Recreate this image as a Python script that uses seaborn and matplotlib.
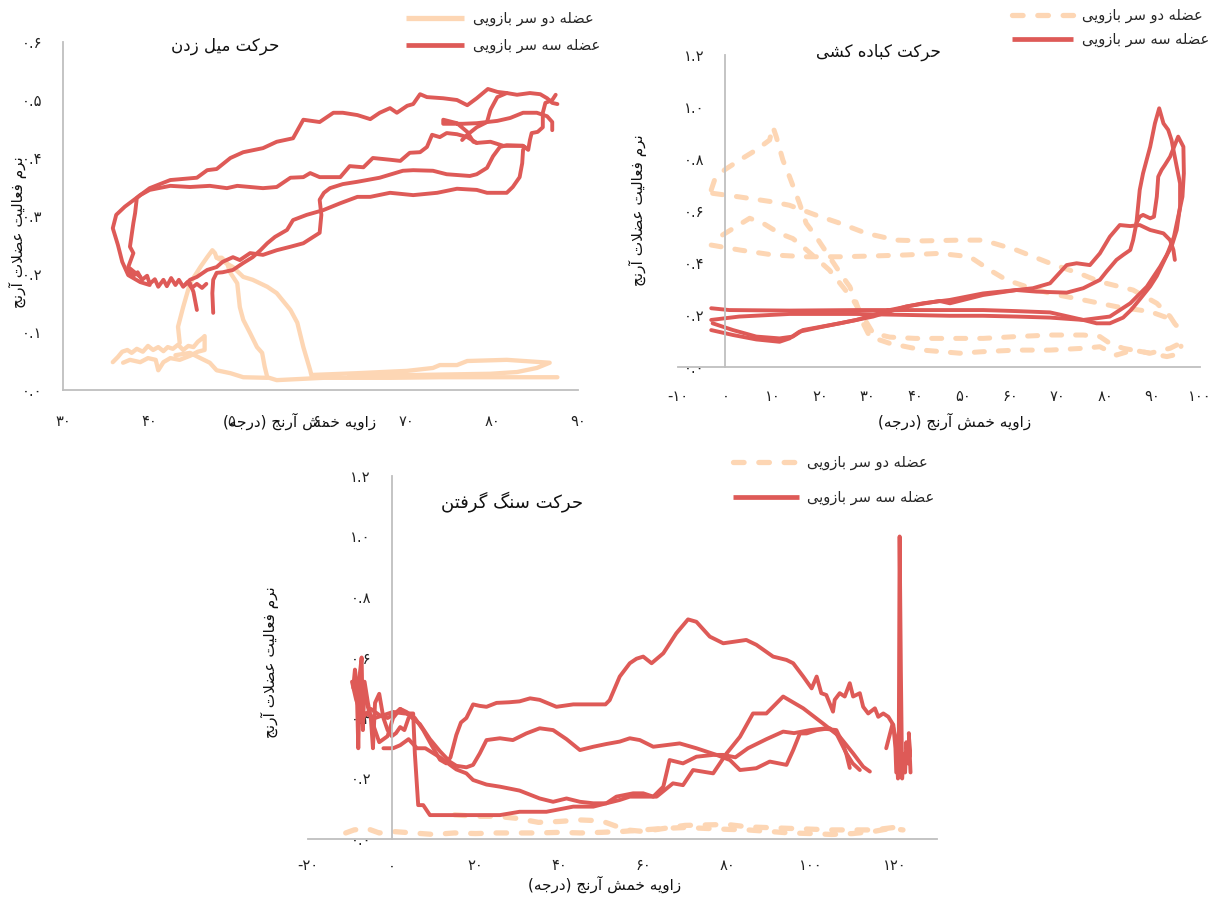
import numpy as np
import pandas as pd
import matplotlib
matplotlib.use("Agg")
import matplotlib.pyplot as plt
from matplotlib.lines import Line2D
import seaborn as sns

# ---------------------------------------------------------------- text
LEG_BI = "عضله دو سر بازویی"
LEG_TRI = "عضله سه سر بازویی"
TITLE_1 = "حرکت میل زدن"
TITLE_2 = "حرکت کباده کشی"
TITLE_3 = "حرکت سنگ گرفتن"
Y_LABEL = "نرم فعالیت عضلات آرنج"
X_LABEL = "زاویه خمش آرنج (درجه)"

# ---------------------------------------------------------------- ticks
p1_xticks = [30, 40, 50, 60, 70, 80, 90]
p1_yticks = [0.0, 0.1, 0.2, 0.3, 0.4, 0.5, 0.6]
p2_xticks = [-10, 0, 10, 20, 30, 40, 50, 60, 70, 80, 90, 100]
p2_yticks = [0.0, 0.2, 0.4, 0.6, 0.8, 1.0, 1.2]
p3_xticks = [-20, 0, 20, 40, 60, 80, 100, 120]
p3_yticks = [0.0, 0.2, 0.4, 0.6, 0.8, 1.0, 1.2]

# ---------------------------------------------------------------- panel 1 data (angle, activation)
p1_tri_a = [(40.1,0.181),(39.0,0.186),(37.6,0.198),(36.9,0.221),(36.4,0.250),(35.8,0.279),(36.2,0.302),
            (37.2,0.316),(39.0,0.336),(40.1,0.348),(42.5,0.362),(45.6,0.366),(46.8,0.379),(47.9,0.381),
            (49.5,0.400),(51.0,0.410),(53.3,0.417),(54.9,0.428),(56.8,0.434),(58.0,0.466),(59.9,0.462),
            (61.5,0.478),(62.6,0.478),(64.3,0.474),(65.8,0.467),(66.9,0.478),(68.1,0.486),(68.9,0.478),
            (70.1,0.490),(70.8,0.493),(71.6,0.510),(72.4,0.505),(74.3,0.503),(75.9,0.500),(77.1,0.491),
            (78.2,0.503),(79.5,0.519),(80.6,0.514),(81.7,0.512),(82.9,0.509),(84.4,0.512),(85.6,0.510),
            (86.4,0.503),(87.0,0.495),(87.6,0.493)]
p1_tri_b = [(39.0,0.195),(37.6,0.212),(38.2,0.236),(37.8,0.247),(38.2,0.288),(38.4,0.305),(38.6,0.331),
            (39.0,0.336),(40.1,0.345),(42.5,0.352),(44.8,0.350),(47.1,0.352),(49.1,0.348),(50.3,0.352),
            (51.8,0.350),(53.3,0.348),(54.9,0.350),(56.5,0.366),(58.0,0.367),(58.8,0.374),(59.9,0.367),
            (62.3,0.367),(63.4,0.386),(65.0,0.384),(66.1,0.400),(68.1,0.397),(69.3,0.395),(70.4,0.409),
            (71.6,0.410),(72.4,0.419),(73.0,0.440),(73.9,0.436),(74.7,0.443),(75.9,0.441),(77.1,0.436),
            (78.2,0.426),(79.8,0.428),(81.3,0.421),(82.9,0.421),(83.6,0.421),(84.2,0.414),(84.4,0.431),
            (84.6,0.443),(85.3,0.445),(85.9,0.453),(85.9,0.478),(86.2,0.495),(87.0,0.500),(87.4,0.509)]
p1_tri_c = [(44.2,0.181),(44.8,0.190),(45.6,0.195),(46.8,0.207),(47.9,0.212),(48.6,0.221),(49.8,0.229),
            (50.6,0.224),(51.8,0.236),(53.3,0.233),(54.9,0.241),(56.5,0.247),(58.0,0.253),(59.9,0.271),
            (60.1,0.302),(59.9,0.328),(60.4,0.340),(61.1,0.348),(62.6,0.355),(64.3,0.359),(66.9,0.366),
            (69.6,0.378),(70.8,0.379),(73.1,0.378),(74.7,0.372),(77.4,0.369),(78.2,0.372),(79.4,0.383),
            (80.1,0.403),(80.9,0.419),(81.7,0.422),(83.6,0.421)]
p1_tri_d = [(47.5,0.133),(47.4,0.167),(47.5,0.190),(47.9,0.202),(48.6,0.203),(49.8,0.207),(51.0,0.219),
            (52.1,0.229),(53.0,0.241),(53.8,0.253),(54.7,0.264),(56.1,0.276),(56.8,0.293),(58.4,0.302),
            (60.3,0.310),(62.3,0.322),(64.3,0.333),(65.8,0.333),(68.1,0.340),(70.8,0.336),(73.6,0.340),
            (75.9,0.347),(78.2,0.345),(79.4,0.340),(81.7,0.340),(82.4,0.350),(83.2,0.367),(83.5,0.391),
            (83.6,0.414),(83.8,0.419)]
p1_tri_e = [(44.8,0.184),(45.2,0.169),(45.6,0.138)]
p1_tri_f = [(37.5,0.207),(38.2,0.197),(38.7,0.203),(39.2,0.190),(39.8,0.197),(40.1,0.183),(40.7,0.191),
            (41.1,0.178),(41.7,0.190),(42.1,0.179),(42.6,0.193),(43.1,0.181),(43.5,0.190),(44.0,0.178),
            (44.5,0.186),(45.0,0.176),(45.6,0.183),(46.2,0.176),(46.7,0.183)]
p1_tri_g = [(78.2,0.426),(77.8,0.428),(77.1,0.445),(75.9,0.460),(74.3,0.466),(74.3,0.459),(76.6,0.459),
            (78.2,0.460),(80.6,0.464),(82.1,0.469),(83.6,0.478),(85.2,0.478),(86.4,0.472),(87.0,0.462),
            (87.0,0.448)]
p1_tri_h = [(76.5,0.431),(77.1,0.440),(78.2,0.453),(79.4,0.462),(79.8,0.483),(80.6,0.505),(81.7,0.512)]

p1_bi_a = [(43.6,0.081),(43.4,0.109),(44.0,0.143),(44.8,0.184),(46.0,0.212),(46.8,0.229),(47.4,0.241),
           (47.7,0.236),(47.9,0.228),(48.5,0.228),(49.1,0.219),(49.5,0.202),(50.3,0.184),(50.6,0.143),
           (51.0,0.121),(51.8,0.098),(52.6,0.074),(53.2,0.064),(53.5,0.040),(53.8,0.022),(54.9,0.017),
           (60.3,0.021),(68.1,0.021),(73.9,0.022),(79.8,0.022),(87.6,0.022)]
p1_bi_b = [(47.9,0.228),(49.8,0.212),(51.0,0.195),(52.1,0.190),(53.8,0.178),(54.9,0.167),(56.5,0.138),
           (57.3,0.116),(58.0,0.074),(58.8,0.034),(59.0,0.022),(59.1,0.026),(64.3,0.029),(70.1,0.033),
           (73.1,0.038),(73.9,0.043),(75.9,0.043),(77.1,0.050),(81.7,0.052),(86.7,0.047),(85.2,0.038),
           (82.9,0.031),(79.8,0.028),(71.6,0.026),(63.4,0.024)]
p1_bi_c = [(35.8,0.048),(36.4,0.057),(36.9,0.066),(37.5,0.069),(38.0,0.064),(38.6,0.071),(39.3,0.066),
           (39.9,0.076),(40.5,0.069),(41.1,0.074),(41.7,0.067),(42.2,0.074),(42.8,0.071),(43.4,0.078),
           (44.0,0.069),(44.6,0.076),(45.2,0.074),(45.7,0.083),(46.3,0.090),(46.5,0.093),(46.5,0.069),
           (45.7,0.066),(44.8,0.059),(43.6,0.052),(42.5,0.055),(41.7,0.048),(41.1,0.034),(40.8,0.052),
           (39.9,0.055),(39.0,0.048),(37.8,0.052),(37.0,0.047)]
p1_bi_d = [(43.1,0.060),(44.8,0.064),(46.0,0.055),(47.1,0.047),(47.9,0.034),(49.5,0.029),(51.0,0.022),
           (53.8,0.021)]

# ---------------------------------------------------------------- panel 2 data
p2_tri_a = [(-3.0,0.226),(0.8,0.219),(13.5,0.217),(27.6,0.219),(47.3,0.219),(54.3,0.219),(61.3,0.215),
            (68.4,0.210),(75.4,0.181),(78.2,0.168),(81.0,0.168),(83.8,0.190),(85.5,0.220),(87.3,0.260),
            (89.5,0.310),(90.9,0.350),(93.0,0.430),(94.5,0.500),(95.4,0.578),(96.3,0.655),(96.6,0.745),
            (96.5,0.847),(95.4,0.886),(93.7,0.809),(92.6,0.777),(91.9,0.758),(91.2,0.732),(90.9,0.655),
            (90.3,0.578),(89.5,0.572),(88.0,0.585),(87.3,0.578),(86.6,0.553),(85.9,0.488),(85.3,0.450),
            (83.8,0.431),(82.4,0.412),(80.3,0.367),(78.9,0.335),(75.4,0.303),(71.9,0.286),(65.5,0.290),
            (61.3,0.296),(54.3,0.283),(47.3,0.258),(41.6,0.245),(34.6,0.219),(27.6,0.181),(20.5,0.155),
            (15.6,0.136),(13.5,0.110),(11.4,0.097),(6.5,0.106),(1.6,0.123),(-3.0,0.142)]
p2_tri_b = [(-2.7,0.168),(1.6,0.142),(6.5,0.117),(11.4,0.110),(14.2,0.117),(16.3,0.142),(24.1,0.168),
            (31.1,0.194),(38.1,0.233),(45.1,0.254),(47.3,0.245),(54.3,0.277),(61.3,0.296),(64.8,0.303),
            (68.4,0.322),(71.9,0.392),(74.0,0.399),(76.8,0.392),(78.9,0.437),(81.0,0.501),(83.1,0.546),
            (85.3,0.542),(87.3,0.546),(89.5,0.527),(92.3,0.514),(93.7,0.488),(94.4,0.450),(94.7,0.412)]
p2_tri_c = [(86.6,0.553),(87.3,0.681),(88.0,0.745),(89.5,0.847),(90.5,0.937),(91.4,0.995),(92.3,0.937),
            (93.3,0.912),(94.0,0.873),(95.1,0.770),(95.8,0.706),(95.8,0.617),(95.1,0.527),(94.0,0.463),
            (91.6,0.386),(88.8,0.309),(85.3,0.245),(81.0,0.194),(75.4,0.181),(68.4,0.190),(61.3,0.194),
            (54.3,0.197),(47.3,0.197),(27.6,0.204),(13.5,0.204),(2.9,0.194),(-3.0,0.181)]

p2_bi_a = [(-3.0,0.681),(-2.3,0.719),(-0.2,0.758),(3.0,0.796),(6.5,0.835),(9.3,0.873),(10.0,0.924),
           (10.7,0.886),(12.1,0.796),(13.5,0.732),(15.6,0.630),(17.0,0.553),(19.1,0.501),(21.9,0.424),
           (24.7,0.347),(26.2,0.309),(27.6,0.245),(29.0,0.168),(30.4,0.117),(34.6,0.091),(41.6,0.065),
           (49.4,0.053),(54.3,0.059),(61.3,0.065),(68.4,0.065),(75.4,0.072),(78.9,0.078),(82.4,0.046),
           (85.9,0.065),(89.5,0.053),(93.0,0.040),(95.5,0.050),(96.0,0.080)]
p2_bi_b = [(-3.0,0.469),(3.0,0.450),(10.0,0.431),(17.0,0.424),(24.1,0.424),(31.1,0.427),(38.1,0.431),
           (45.1,0.437),(51.5,0.424),(55.7,0.373),(59.2,0.335),(63.4,0.309),(68.4,0.283),(75.4,0.258),
           (82.4,0.232),(89.5,0.213),(93.0,0.190),(95.0,0.160)]
p2_bi_c = [(-2.7,0.668),(3.0,0.654),(10.0,0.635),(13.5,0.622),(19.1,0.584),(24.1,0.553),(29.7,0.514),
           (36.0,0.488),(41.6,0.485),(49.4,0.488),(54.3,0.488),(61.3,0.450),(68.4,0.399),(75.4,0.354),
           (78.9,0.328),(85.9,0.296),(90.9,0.245),(93.7,0.194),(95.1,0.155)]
p2_bi_d = [(-0.6,0.508),(5.1,0.572),(7.9,0.553),(11.4,0.514),(14.2,0.494),(16.3,0.463),(19.1,0.418),
           (21.9,0.373),(24.7,0.309),(26.9,0.258),(29.0,0.194),(31.1,0.130),(34.6,0.115),(40.0,0.110),
           (47.3,0.110),(54.3,0.110),(61.3,0.117),(68.4,0.123),(75.4,0.123),(78.9,0.117),(81.0,0.091),
           (83.8,0.072),(89.5,0.053),(93.7,0.072),(95.8,0.091)]

# ---------------------------------------------------------------- panel 3 data
p3_tri_a = [(-9.5,0.520),(-8.5,0.460),(-7.0,0.400),(-5.0,0.430),(-3.0,0.410),(-1.0,0.400),(0.3,0.410),
            (2.0,0.430),(3.5,0.420),(5.5,0.400),(7.5,0.360),(9.5,0.310),(11.5,0.262),(13.0,0.250),
            (14.0,0.270),(15.4,0.344),(16.5,0.385),(17.8,0.400),(19.4,0.445),(21.0,0.440),(22.6,0.437),
            (25.0,0.450),(28.0,0.452),(30.5,0.455),(33.0,0.465),(35.3,0.460),(39.3,0.437),(43.3,0.445),
            (48.0,0.445),(51.0,0.445),(52.0,0.459),(54.4,0.537),(56.8,0.581),(58.4,0.596),(60.0,0.603),
            (62.0,0.581),(64.8,0.614),(67.9,0.680),(70.7,0.726),(72.7,0.718),(75.9,0.669),(79.1,0.647),
            (84.6,0.658),(87.0,0.642),(91.0,0.603),(94.2,0.592),(95.8,0.581),(98.2,0.537),(100.2,0.498),
            (101.4,0.537),(102.5,0.482),(103.7,0.476),(105.3,0.421),(105.7,0.460),(106.9,0.482),
            (108.1,0.471),(109.3,0.515),(110.1,0.471),(111.7,0.482),(112.5,0.437),(113.7,0.415),
            (115.3,0.432),(116.1,0.404),(117.3,0.415),(118.5,0.404),(119.7,0.377),(120.2,0.300),
            (120.4,0.220)]
p3_tri_b = [(-6.0,0.450),(-4.5,0.380),(-3.0,0.320),(-1.0,0.340),(0.3,0.400),(2.0,0.430),(4.0,0.410),
            (6.7,0.380),(9.1,0.330),(11.5,0.290),(13.9,0.255),(15.4,0.242),(17.8,0.237),(19.4,0.245),
            (21.0,0.283),(22.6,0.327),(25.8,0.333),(28.9,0.327),(32.1,0.349),(35.3,0.366),(38.5,0.360),
            (41.7,0.330),(44.9,0.294),(48.1,0.305),(51.2,0.314),(54.4,0.322),(56.8,0.333),(59.2,0.327),
            (62.4,0.305),(68.7,0.316),(72.7,0.300),(77.5,0.278),(80.7,0.261),(83.1,0.228),(87.0,0.234),
            (90.2,0.256),(94.2,0.245),(95.8,0.294),(97.4,0.349),(99.0,0.349),(101.4,0.360),(104.5,0.366),
            (106.1,0.349),(108.5,0.283),(110.0,0.250),(111.7,0.228)]
p3_tri_c = [(-7.0,0.420),(-4.0,0.400),(0.3,0.420),(3.0,0.415),(5.1,0.415),(5.5,0.283),(6.3,0.112),
            (7.5,0.112),(9.1,0.079),(15.4,0.079),(25.8,0.079),(30.5,0.090),(36.9,0.090),(43.3,0.107),
            (48.1,0.107),(51.2,0.118),(53.6,0.140),(57.6,0.151),(60.0,0.151),(62.4,0.140),(64.8,0.173),
            (66.3,0.261),(69.5,0.250),(72.7,0.272),(76.7,0.278),(79.1,0.278),(82.0,0.270),(85.0,0.300),
            (89.4,0.330),(93.4,0.355),(96.0,0.350),(99.8,0.360),(103.0,0.365),(106.1,0.360),(107.5,0.320),
            (108.5,0.280),(109.3,0.235)]
p3_tri_d = [(-2.0,0.300),(0.3,0.300),(2.0,0.310),(4.0,0.330),(6.0,0.300),(8.0,0.300),(11.5,0.270),
            (13.9,0.245),(15.4,0.230),(17.8,0.217),(19.4,0.195),(22.6,0.180),(25.8,0.173),(30.5,0.160),
            (35.3,0.134),(38.5,0.123),(41.7,0.134),(44.9,0.123),(48.1,0.118),(51.2,0.118),(54.4,0.129),
            (56.8,0.140),(59.2,0.140),(63.2,0.140),(67.1,0.184),(69.5,0.178),(71.9,0.228),(76.7,0.217),
            (79.9,0.283),(83.1,0.338),(86.2,0.415),(89.4,0.415),(93.4,0.471),(98.2,0.432),(102.9,0.382),
            (106.9,0.338),(110.1,0.283),(112.5,0.239),(114.1,0.223)]
p3_tri_e = [(-9.2,0.500),(-8.8,0.560),(-8.4,0.520),(-8.0,0.300),(-7.6,0.550),(-7.2,0.600),(-6.9,0.360),
            (-6.5,0.520),(-5.7,0.450),(-5.0,0.400),(-4.5,0.300),(-4.0,0.450),(-3.0,0.480),(-2.0,0.400),
            (-1.0,0.360),(0.0,0.340),(1.0,0.350),(2.0,0.370),(3.0,0.360),(4.0,0.400)]
p3_tri_f = [(118.0,0.300),(119.5,0.380),(120.3,0.330),(120.6,0.250),(120.8,0.200),(121.0,0.300),
            (121.2,1.000),(121.5,0.550),(121.8,0.200),(122.1,0.280),(122.5,0.220),(122.8,0.320),
            (123.2,0.250),(123.6,0.280),(123.4,0.350),(123.8,0.220)]

p3_bi_a = [(-11.0,0.020),(-9.0,0.030),(-6.0,0.035),(-3.0,0.020),(0.0,0.025),(5.0,0.020),(10.0,0.015),
           (15.0,0.020),(20.0,0.018),(25.0,0.020),(30.0,0.020),(35.0,0.020),(40.0,0.022),(45.0,0.020),
           (50.0,0.022),(55.0,0.025),(60.0,0.030),(65.0,0.035),(70.0,0.038),(75.0,0.035),(80.0,0.032),
           (85.0,0.030),(90.0,0.025),(95.0,0.020),(100.0,0.018),(105.0,0.015),(110.0,0.018),(115.0,0.025),
           (119.0,0.035),(122.0,0.030)]
p3_bi_b = [(15.0,0.080),(20.0,0.075),(25.0,0.075),(30.0,0.068),(35.0,0.055),(40.0,0.058),(45.0,0.063),
           (50.0,0.060),(53.0,0.045),(56.0,0.030),(60.0,0.025),(70.0,0.045),(80.0,0.048),(85.0,0.040),
           (95.0,0.035),(105.0,0.030),(115.0,0.030),(121.0,0.040)]

# ---------------------------------------------------------------- Persian shaping helpers
DUAL = {
    'ب': (0xFE8F, 0xFE90, 0xFE91, 0xFE92), 'ت': (0xFE95, 0xFE96, 0xFE97, 0xFE98),
    'ج': (0xFE9D, 0xFE9E, 0xFE9F, 0xFEA0), 'ح': (0xFEA1, 0xFEA2, 0xFEA3, 0xFEA4),
    'خ': (0xFEA5, 0xFEA6, 0xFEA7, 0xFEA8), 'س': (0xFEB1, 0xFEB2, 0xFEB3, 0xFEB4),
    'ش': (0xFEB5, 0xFEB6, 0xFEB7, 0xFEB8), 'ض': (0xFEBD, 0xFEBE, 0xFEBF, 0xFEC0),
    'ع': (0xFEC9, 0xFECA, 0xFECB, 0xFECC), 'ف': (0xFED1, 0xFED2, 0xFED3, 0xFED4),
    'ل': (0xFEDD, 0xFEDE, 0xFEDF, 0xFEE0), 'م': (0xFEE1, 0xFEE2, 0xFEE3, 0xFEE4),
    'ن': (0xFEE5, 0xFEE6, 0xFEE7, 0xFEE8), 'ه': (0xFEE9, 0xFEEA, 0xFEEB, 0xFEEC),
    'ی': (0xFBFC, 0xFBFD, 0xFBFE, 0xFBFF), 'ک': (0xFB8E, 0xFB8F, 0xFB90, 0xFB91),
    'گ': (0xFB92, 0xFB93, 0xFB94, 0xFB95),
}
RIGHT = {'ا': (0xFE8D, 0xFE8E), 'آ': (0xFE81, 0xFE82), 'د': (0xFEA9, 0xFEAA),
         'ر': (0xFEAD, 0xFEAE), 'ز': (0xFEAF, 0xFEB0), 'و': (0xFEED, 0xFEEE)}


def fa(text):
    out = []
    n = len(text)
    i = 0
    while i < n:
        c = text[i]
        prev = text[i - 1] if i > 0 else None
        nxt = text[i + 1] if i + 1 < n else None
        cp = prev in DUAL
        if c == 'ل' and nxt in ('ا', 'آ'):
            lig = (0xFEFB, 0xFEFC) if nxt == 'ا' else (0xFEF5, 0xFEF6)
            out.append(chr(lig[1] if cp else lig[0]))
            i += 2
            continue
        if c in DUAL:
            cn = nxt is not None and (nxt in DUAL or nxt in RIGHT)
            idx = 3 if (cp and cn) else 1 if cp else 2 if cn else 0
            out.append(chr(DUAL[c][idx]))
        elif c in RIGHT:
            out.append(chr(RIGHT[c][1 if cp else 0]))
        else:
            out.append(c)
        i += 1
    vis = ''.join(reversed(out))
    return vis.translate(str.maketrans('()', ')('))


def fa_num(v, fmt):
    s = fmt.format(v)
    return s.translate(str.maketrans('0123456789', '۰۱۲۳۴۵۶۷۸۹'))


# ---------------------------------------------------------------- style
sns.set_theme(style="white")
plt.rcParams['font.family'] = ['DejaVu Sans']

RED = "#DE5A57"
PEACH = "#FDD6B4"
GRAY = "#BFBFBF"

W, H = 1215, 898
fig = plt.figure(figsize=(W / 100, H / 100), dpi=100)


def draw(ax, traces, color, lw, ls):
    frames = []
    for k, tr in enumerate(traces):
        arr = np.array(tr)
        frames.append(pd.DataFrame({'x': arr[:, 0], 'y': arr[:, 1], 'trace': k}))
    df = pd.concat(frames, ignore_index=True)
    sns.lineplot(data=df, x='x', y='y', units='trace', estimator=None, sort=False,
                 color=color, linewidth=lw, linestyle=ls, ax=ax, legend=False,
                 solid_joinstyle='round', solid_capstyle='round', dash_capstyle='round')


def style_axis(ax, xlim, ylim, xticks, yticks, xfmt, yfmt, spine_x, xpad, ypad):
    ax.set_xlim(*xlim)
    ax.set_ylim(*ylim)
    ax.set_xlabel('')
    ax.set_ylabel('')
    ax.set_xticks(xticks)
    ax.set_yticks(yticks)
    ax.set_xticklabels([fa_num(v, xfmt) for v in xticks])
    ax.set_yticklabels([fa_num(v, yfmt) for v in yticks])
    for s in ['top', 'right']:
        ax.spines[s].set_visible(False)
    ax.spines['left'].set_position(('data', spine_x))
    for s in ['left', 'bottom']:
        ax.spines[s].set_color(GRAY)
        ax.spines[s].set_linewidth(1.3)
    ax.tick_params(axis='both', length=0, labelsize=10.5, colors='#222222')
    ax.tick_params(axis='x', pad=xpad)
    ax.tick_params(axis='y', pad=ypad)
    ax.patch.set_alpha(0)


DASH = (0, (2.0, 2.8))

# ---- panel 1
ax1 = fig.add_axes([63 / W, 1 - 390 / H, 515 / W, 348 / H])
draw(ax1, [p1_bi_a, p1_bi_b, p1_bi_c, p1_bi_d], PEACH, 3.1, '-')
draw(ax1, [p1_tri_a, p1_tri_b, p1_tri_c, p1_tri_d, p1_tri_e, p1_tri_f, p1_tri_g, p1_tri_h], RED, 2.8, '-')
style_axis(ax1, (30, 90), (0, 0.6), p1_xticks, p1_yticks, '{:d}', '{:.1f}', 30, 17, 15)

# ---- panel 2
ax2 = fig.add_axes([678 / W, 1 - 367 / H, 522 / W, 312 / H])
draw(ax2, [p2_bi_a, p2_bi_b, p2_bi_c, p2_bi_d], PEACH, 3.6, DASH)
draw(ax2, [p2_tri_a, p2_tri_b, p2_tri_c], RED, 2.8, '-')
style_axis(ax2, (-10, 100), (0, 1.2), p2_xticks, p2_yticks, '{:d}', '{:.1f}', 0, 16, 15)

# ---- panel 3
ax3 = fig.add_axes([308 / W, 1 - 839 / H, 628.5 / W, 363 / H])
draw(ax3, [p3_bi_a, p3_bi_b], PEACH, 3.8, DASH)
draw(ax3, [p3_tri_a, p3_tri_b, p3_tri_c, p3_tri_d, p3_tri_e, p3_tri_f], RED, 2.8, '-')
style_axis(ax3, (-20, 130), (0, 1.2), p3_xticks, p3_yticks, '{:d}', '{:.1f}', 0, 14, 15)


def ftext(px, py, s, size, rot=0):
    fig.text(px / W, 1 - py / H, fa(s), ha='center', va='center', fontsize=size,
             rotation=rot, color='#111111')


ftext(225, 46, TITLE_1, 12)
ftext(878, 52, TITLE_2, 12)
ftext(512, 502, TITLE_3, 13)
ftext(18, 232, Y_LABEL, 11, 90)
ftext(638, 210, Y_LABEL, 11, 90)
ftext(270, 662, Y_LABEL, 11, 90)
ftext(300, 421, X_LABEL, 11)
ftext(955, 421, X_LABEL, 11)
ftext(605, 884, X_LABEL, 11)


def legend(px, py, bi_ls, spacing, hlen):
    handles = [Line2D([], [], color=PEACH, lw=3.8, ls=bi_ls, dash_capstyle='round',
                      solid_capstyle='butt'),
               Line2D([], [], color=RED, lw=3.4, solid_capstyle='butt')]
    fig.legend(handles, [fa(LEG_BI), fa(LEG_TRI)], loc='upper left',
               bbox_to_anchor=(px / W, 1 - py / H), bbox_transform=fig.transFigure,
               frameon=False, fontsize=10.5, handlelength=hlen, handletextpad=0.6,
               labelspacing=spacing, borderpad=0, borderaxespad=0)


legend(406, 11, '-', 0.82, 4.0)
legend(1012, 8, (0, (2.0, 2.8)), 0.6, 4.2)
legend(733, 455, (0, (2.0, 2.8)), 1.35, 4.5)

fig.savefig("out.png", dpi=100)
